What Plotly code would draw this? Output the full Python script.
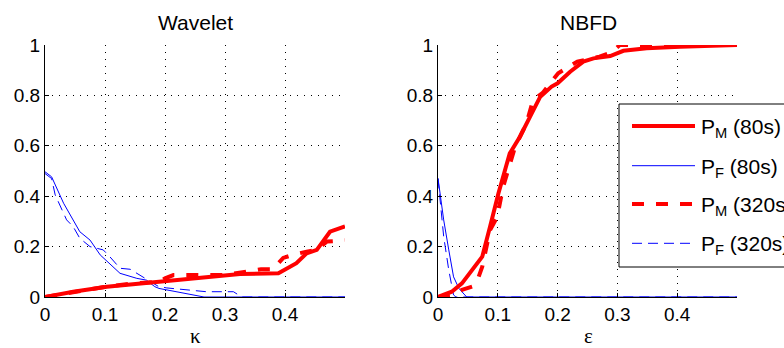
import plotly.graph_objects as go

# ---------------- data ----------------
# Wavelet (x = kappa)
wav_pm80_x = [0, 0.047, 0.103, 0.158, 0.214, 0.269, 0.325, 0.389, 0.403, 0.419, 0.436, 0.453, 0.475, 0.497, 0.5]
wav_pm80_y = [0, 0.021, 0.041, 0.054, 0.067, 0.079, 0.091, 0.094, 0.114, 0.134, 0.173, 0.187, 0.259, 0.279, 0.28]

wav_pf80_x = [0, 0.011, 0.031, 0.058, 0.075, 0.092, 0.125, 0.153, 0.169, 0.183, 0.19, 0.23, 0.265, 0.5]
wav_pf80_y = [0.497, 0.477, 0.372, 0.259, 0.226, 0.167, 0.094, 0.074, 0.067, 0.041, 0.034, 0.015, 0, 0]

wav_pm320_x = [0, 0.05, 0.1, 0.15, 0.19, 0.2, 0.214, 0.24, 0.3, 0.36, 0.38, 0.397, 0.413, 0.436, 0.453, 0.47, 0.487, 0.5]
wav_pm320_y = [0, 0.02, 0.04, 0.055, 0.06, 0.074, 0.087, 0.087, 0.087, 0.11, 0.11, 0.155, 0.167, 0.18, 0.187, 0.22, 0.223, 0.225]

wav_pf320_x = [0, 0.011, 0.017, 0.036, 0.047, 0.058, 0.075, 0.097, 0.108, 0.125, 0.142, 0.189, 0.203, 0.269, 0.314, 0.328, 0.5]
wav_pf320_y = [0.49, 0.47, 0.405, 0.306, 0.279, 0.233, 0.2, 0.187, 0.16, 0.114, 0.11, 0.042, 0.036, 0.021, 0.021, 0, 0]

# NBFD (x = epsilon)
nb_pm80_x = [0, 0.023, 0.04, 0.057, 0.074, 0.087, 0.101, 0.12, 0.137, 0.154, 0.171, 0.19, 0.2, 0.221, 0.243, 0.26, 0.288, 0.31, 0.349, 0.405, 0.5]
nb_pm80_y = [0, 0.021, 0.054, 0.107, 0.16, 0.279, 0.411, 0.57, 0.636, 0.716, 0.795, 0.835, 0.848, 0.894, 0.934, 0.947, 0.956, 0.977, 0.987, 0.993, 1.0]

nb_pf80_x = [0, 0.0095, 0.018, 0.026, 0.035, 0.048, 0.5]
nb_pf80_y = [0.471, 0.306, 0.187, 0.08, 0.034, 0, 0]

nb_pm320_x = [0, 0.02, 0.04, 0.057, 0.068, 0.074, 0.087, 0.099, 0.109, 0.117, 0.129, 0.148, 0.159, 0.175, 0.201, 0.233, 0.27, 0.29, 0.304, 0.5]
nb_pm320_y = [0, 0.005, 0.028, 0.041, 0.08, 0.12, 0.265, 0.318, 0.438, 0.5, 0.597, 0.689, 0.782, 0.81, 0.888, 0.934, 0.954, 0.97, 1.0, 1.0]

nb_pf320_x = [0, 0.0095, 0.018, 0.026, 0.03, 0.5]
nb_pf320_y = [0.47, 0.24, 0.107, 0.008, 0, 0]

x_ticks = [0, 0.1, 0.2, 0.3, 0.4]
x_tick_labels = ["0", "0.1", "0.2", "0.3", "0.4"]
y_ticks = [0, 0.2, 0.4, 0.6, 0.8, 1.0]
y_tick_labels = ["0", "0.2", "0.4", "0.6", "0.8", "1"]

titles = ["Wavelet", "NBFD"]
x_titles = ["κ", "ε"]
legend_labels = ["P<sub>M</sub> (80s)", "P<sub>F</sub> (80s)", "P<sub>M</sub> (320s)", "P<sub>F</sub> (320s)"]

# ---------------- styles ----------------
RED = "rgb(255,0,0)"
BLUE = "rgb(0,0,255)"
styles = [
    dict(color=RED, width=4, dash="solid"),
    dict(color=BLUE, width=1, dash="solid"),
    dict(color=RED, width=4, dash="dash"),
    dict(color=BLUE, width=1, dash="10px,6px"),
]

W, H = 784, 348
ML, MR, MT, MB = 45, 47, 45, 51
PW = W - ML - MR
PH = H - MT - MB


def px(xp):
    return (xp - ML) / PW


def py(yp):
    return (H - MB - yp) / PH


fig = go.Figure()

wav_series = [(wav_pm80_x, wav_pm80_y), (wav_pf80_x, wav_pf80_y), (wav_pm320_x, wav_pm320_y), (wav_pf320_x, wav_pf320_y)]
nb_series = [(nb_pm80_x, nb_pm80_y), (nb_pf80_x, nb_pf80_y), (nb_pm320_x, nb_pm320_y), (nb_pf320_x, nb_pf320_y)]

order = [1, 3, 0, 2]
for i in order:
    xs, ys = wav_series[i]
    fig.add_trace(go.Scatter(x=xs, y=ys, mode="lines", line=styles[i], showlegend=False,
                             xaxis="x", yaxis="y", hoverinfo="skip"))
for i in order:
    xs, ys = nb_series[i]
    fig.add_trace(go.Scatter(x=xs, y=ys, mode="lines", line=styles[i], showlegend=False,
                             xaxis="x2", yaxis="y2", hoverinfo="skip"))

FONT = "Liberation Sans, Arial, Helvetica, sans-serif"
axis_common = dict(
    range=[0, 0.5], tickmode="array", tickvals=x_ticks, ticktext=x_tick_labels,
    showgrid=True, gridcolor="black", gridwidth=1, griddash="1px,6px",
    zeroline=False, showline=True, linecolor="black", linewidth=1,
    ticks="inside", ticklen=4, tickcolor="black",
    tickfont=dict(family=FONT, size=19, color="black"),
)
yaxis_common = dict(
    range=[0, 1], tickmode="array", tickvals=y_ticks, ticktext=y_tick_labels,
    showgrid=True, gridcolor="black", gridwidth=1, griddash="1px,6px",
    zeroline=False, showline=True, linecolor="black", linewidth=1,
    ticks="inside", ticklen=4, tickcolor="black",
    tickfont=dict(family=FONT, size=19, color="black"),
)

d1 = [0, px(345)]
d2 = [px(438), 1]

fig.update_layout(
    width=W, height=H,
    margin=dict(l=ML, r=MR, t=MT, b=MB, autoexpand=False),
    paper_bgcolor="white", plot_bgcolor="white",
    showlegend=False,
    xaxis=dict(domain=d1, anchor="y", **axis_common),
    yaxis=dict(domain=[0, 1], anchor="x", **yaxis_common),
    xaxis2=dict(domain=d2, anchor="y2", **axis_common),
    yaxis2=dict(domain=[0, 1], anchor="x2", **yaxis_common),
)

annotations = []
title_centers = [195, 588]
for t, xt, c in zip(titles, x_titles, title_centers):
    annotations.append(dict(text=t, x=px(c), y=py(22), xref="paper", yref="paper",
                            showarrow=False, xanchor="center", yanchor="middle",
                            font=dict(family=FONT, size=21, color="black")))
    annotations.append(dict(text=xt, x=px(c), y=py(336), xref="paper", yref="paper",
                            showarrow=False, xanchor="center", yanchor="middle",
                            font=dict(family="Liberation Serif, Times New Roman, serif", size=21, color="black")))

# legend (manual)
shapes = [dict(type="rect", xref="paper", yref="paper", x0=px(619), x1=px(800), y0=py(267), y1=py(104),
               fillcolor="white", line=dict(color="black", width=1), layer="above")]
entry_y = [126, 165.7, 204, 243.3]
for lab, st, ey in zip(legend_labels, styles, entry_y):
    shapes.append(dict(type="line", xref="paper", yref="paper", x0=px(632), x1=px(695), y0=py(ey), y1=py(ey),
                       line=st, layer="above"))
    annotations.append(dict(text=lab, x=px(699), y=py(ey + 2), xref="paper", yref="paper",
                            showarrow=False, xanchor="left", yanchor="middle",
                            font=dict(family=FONT, size=21, color="black")))

fig.update_layout(shapes=shapes, annotations=annotations)

fig.write_html("out.html", config={"displayModeBar": False},
               post_script="document.body.style.margin='0';document.body.style.overflow='hidden';")
